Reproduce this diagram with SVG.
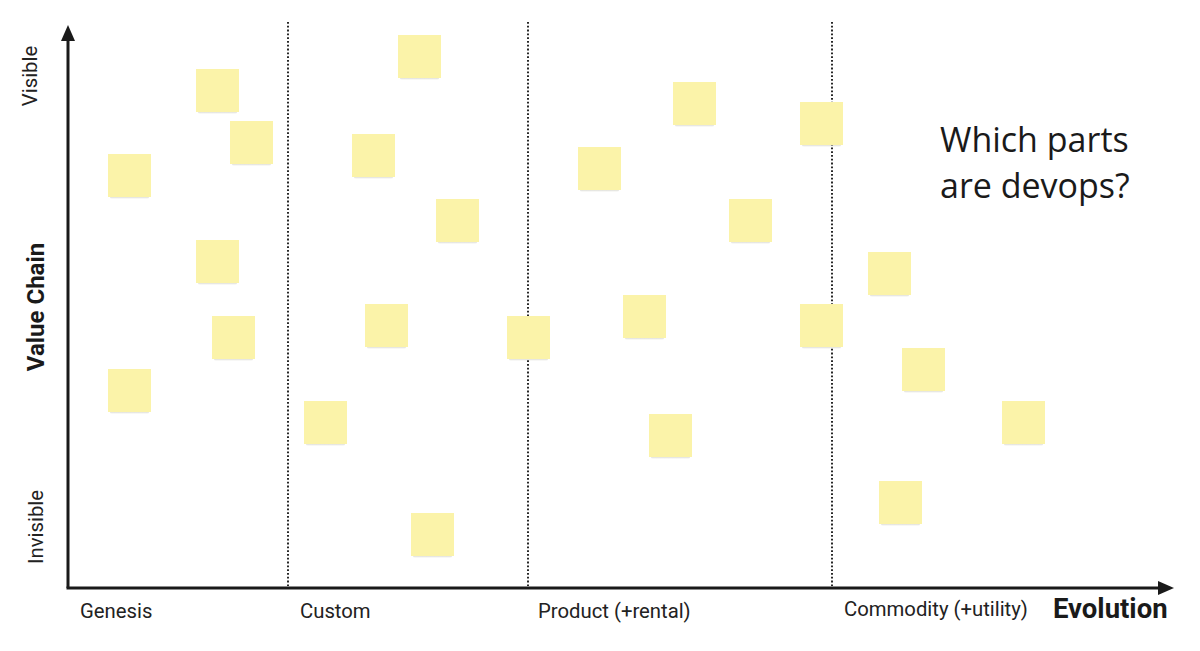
<svg xmlns="http://www.w3.org/2000/svg" width="1200" height="651" viewBox="0 0 1200 651">
<style>
.note{fill:#fbf3a9}
.shadow{fill:url(#sh)}
.lbl{font-family:Roboto,"Liberation Sans",sans-serif;font-size:20.3px;fill:#222}
.bold{font-family:Roboto,"Liberation Sans",sans-serif;font-weight:bold;font-size:27.5px;fill:#1a1a1a}
.vc{font-size:24px}
.q{font-family:"Open Sans","Liberation Sans",sans-serif;font-size:34px;fill:#1a1a1a}
.dot{stroke:#111;stroke-width:1.8;stroke-dasharray:1.8 2;fill:none}
.axis{stroke:#1a1a1a;stroke-width:3;fill:none}
</style>
<defs>
<linearGradient id="sh" x1="0" y1="0" x2="0" y2="1">
<stop offset="0" stop-color="#8a8a70" stop-opacity="0.55"/>
<stop offset="1" stop-color="#8a8a70" stop-opacity="0"/>
</linearGradient>
<g id="n">
<rect class="shadow" x="2" y="41" width="39" height="4" rx="2"/>
<rect class="note" x="0" y="0" width="43" height="43"/>
</g>
</defs>
<rect width="1200" height="651" fill="#fff"/>
<g id="connectors">
<line class="dot" x1="288" y1="22" x2="288" y2="586"/>
<line class="dot" x1="528" y1="22" x2="528" y2="586"/>
<line class="dot" x1="832" y1="22" x2="832" y2="586"/>
<path class="axis" d="M68 588 V38"/>
<path d="M68 25 L61 41 L75 41 Z" fill="#1a1a1a"/>
<path class="axis" d="M66.5 588 H1160"/>
<path d="M1174 588 L1158 581 L1158 595 Z" fill="#1a1a1a"/>
</g>
<g id="labels">
<text class="lbl" transform="translate(37 76) rotate(-90)" text-anchor="middle">Visible</text>
<text class="lbl" transform="translate(43 527) rotate(-90)" text-anchor="middle">Invisible</text>
<text class="bold vc" transform="translate(44 307) rotate(-90)" text-anchor="middle">Value Chain</text>
<text class="lbl" x="80" y="618">Genesis</text>
<text class="lbl" x="300" y="618">Custom</text>
<text class="lbl" x="538" y="618">Product (+rental)</text>
<text class="lbl" x="844" y="616">Commodity (+utility)</text>
<text class="bold" x="1053" y="618">Evolution</text>
<text class="q" x="940" y="152">Which parts</text>
<text class="q" x="940" y="198">are devops?</text>
</g>
<g id="note1"><use href="#n" x="108" y="154"/></g>
<g id="note2"><use href="#n" x="196" y="69"/></g>
<g id="note3"><use href="#n" x="230" y="121"/></g>
<g id="note4"><use href="#n" x="196" y="240"/></g>
<g id="note5"><use href="#n" x="212" y="316"/></g>
<g id="note6"><use href="#n" x="108" y="369"/></g>
<g id="note7"><use href="#n" x="398" y="35"/></g>
<g id="note8"><use href="#n" x="352" y="134"/></g>
<g id="note9"><use href="#n" x="436" y="199"/></g>
<g id="note10"><use href="#n" x="365" y="304"/></g>
<g id="note11"><use href="#n" x="304" y="401"/></g>
<g id="note12"><use href="#n" x="411" y="513"/></g>
<g id="note13"><use href="#n" x="507" y="316"/></g>
<g id="note14"><use href="#n" x="578" y="147"/></g>
<g id="note15"><use href="#n" x="673" y="82"/></g>
<g id="note16"><use href="#n" x="623" y="295"/></g>
<g id="note17"><use href="#n" x="729" y="199"/></g>
<g id="note18"><use href="#n" x="800" y="102"/></g>
<g id="note19"><use href="#n" x="800" y="304"/></g>
<g id="note20"><use href="#n" x="649" y="414"/></g>
<g id="note21"><use href="#n" x="868" y="252"/></g>
<g id="note22"><use href="#n" x="902" y="348"/></g>
<g id="note23"><use href="#n" x="1002" y="401"/></g>
<g id="note24"><use href="#n" x="879" y="481"/></g>
</svg>
